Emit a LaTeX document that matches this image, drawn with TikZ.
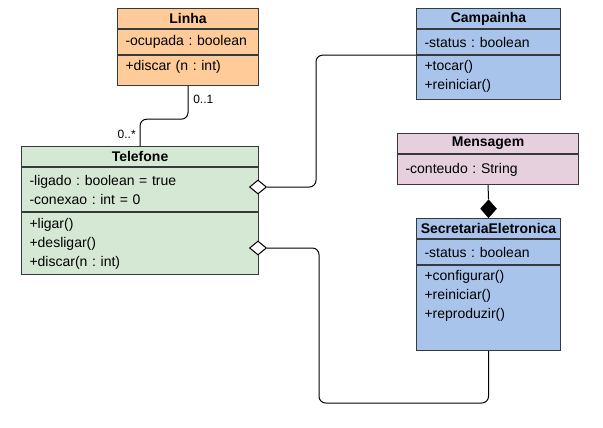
\documentclass[tikz,border=0pt]{standalone}
\usepackage{fontspec}
\setmainfont{Liberation Sans}
\frenchspacing
\usetikzlibrary{shapes.geometric}
\definecolor{linec}{HTML}{36393D}
\definecolor{orangec}{HTML}{FFCC99}
\definecolor{bluec}{HTML}{A9C4EB}
\definecolor{greenc}{HTML}{D5E8D4}
\definecolor{pinkc}{HTML}{E6D0DE}

\begin{document}
\begin{tikzpicture}[
  x=0.75pt, y=-0.75pt,
  every node/.style={inner sep=1pt, font=\fontsize{10.5}{14.25}\selectfont},
  % class compartments: bold centred title, then left-aligned lists
  part/.style={draw=linec, line width=0.8pt, anchor=north west,
    inner xsep=6pt, inner ysep=0pt, align=left},
  head/.style={part, align=center, inner xsep=1pt, minimum height=15pt,
    font=\fontsize{10.5}{14.25}\selectfont\bfseries},
  mult/.style={inner sep=0pt, font=\fontsize{9}{11}\selectfont},
  link/.style={draw, line width=0.75pt, rounded corners=5pt},
  opendia/.style={diamond, draw, line width=0.75pt, fill=white,
    minimum width=12.75pt, minimum height=10.5pt, inner sep=0pt},
  filldia/.style={diamond, draw, fill=black, minimum width=12pt,
    minimum height=13.5pt, inner sep=0pt}]

  \useasboundingbox (0,0) rectangle (603,428);

  % Linha
  \node[head, fill=orangec, text width=103.75pt] (linhaH) at (117,8) {Linha};
  \node[part, fill=orangec, text width=93.75pt, minimum height=18.75pt]
    (linhaA) at (linhaH.south west) {-ocupada : boolean};
  \node[part, fill=orangec, text width=93.75pt, minimum height=22.5pt,
    text depth=8.25pt] (linhaM) at (linhaA.south west) {+discar (n : int)};

  % Campainha
  \node[head, fill=bluec, text width=106pt] (campH) at (416,8) {Campainha};
  \node[part, fill=bluec, text width=96pt, minimum height=18.75pt]
    (campA) at (campH.south west) {-status : boolean};
  \node[part, fill=bluec, text width=96pt, minimum height=33pt,
    text depth=18.75pt] (campM) at (campA.south west) {+tocar()\\+reiniciar()};

  % Telefone
  \node[head, fill=greenc, text width=175.75pt] (telH) at (21,146) {Telefone};
  \node[part, fill=greenc, text width=165.75pt, minimum height=33pt]
    (telA) at (telH.south west) {-ligado : boolean = true\\-conexao : int = 0};
  \node[part, fill=greenc, text width=165.75pt, minimum height=46.5pt]
    (telM) at (telA.south west) {+ligar()\\+desligar()\\+discar(n : int)};

  % Mensagem
  \node[head, fill=pinkc, text width=133.75pt] (msgH) at (397,133) {Mensagem};
  \node[part, fill=pinkc, text width=123.75pt, minimum height=22.5pt]
    (msgA) at (msgH.south west) {-conteudo : String};

  % SecretariaEletronica
  \node[head, fill=bluec, text width=106pt] (secH) at (416,218) {SecretariaEletronica};
  \node[part, fill=bluec, text width=96pt, minimum height=18.75pt]
    (secA) at (secH.south west) {-status : boolean};
  \node[part, fill=bluec, text width=96pt, minimum height=63.75pt,
    text depth=49.5pt] (secM) at (secA.south west)
    {+configurar()\\+reiniciar()\\+reproduzir()};

  % diamonds
  \node[opendia] (agg1) at (258,187) {};
  \node[opendia] (agg2) at (258,248) {};
  \node[filldia, anchor=south] (comp) at (secH.north) {};

  % connectors
  \draw[link] (linhaM.south) -- ++(0,33) -| (telH.north);
  \draw[link] (campA.south west) -- ++(-100,0) |- (agg1.east);
  \draw[link] (agg2.east) -- ++(52,0) -- ++(0,155) -| (secM.south);
  \draw[link] (msgA.south) -- (comp.north);

  % multiplicities
  \node[mult, anchor=west] (multLinha) at (193,99) {0..1};
  \node[mult, anchor=east] (multTel) at (136,134) {0..*};
\end{tikzpicture}
\end{document}
